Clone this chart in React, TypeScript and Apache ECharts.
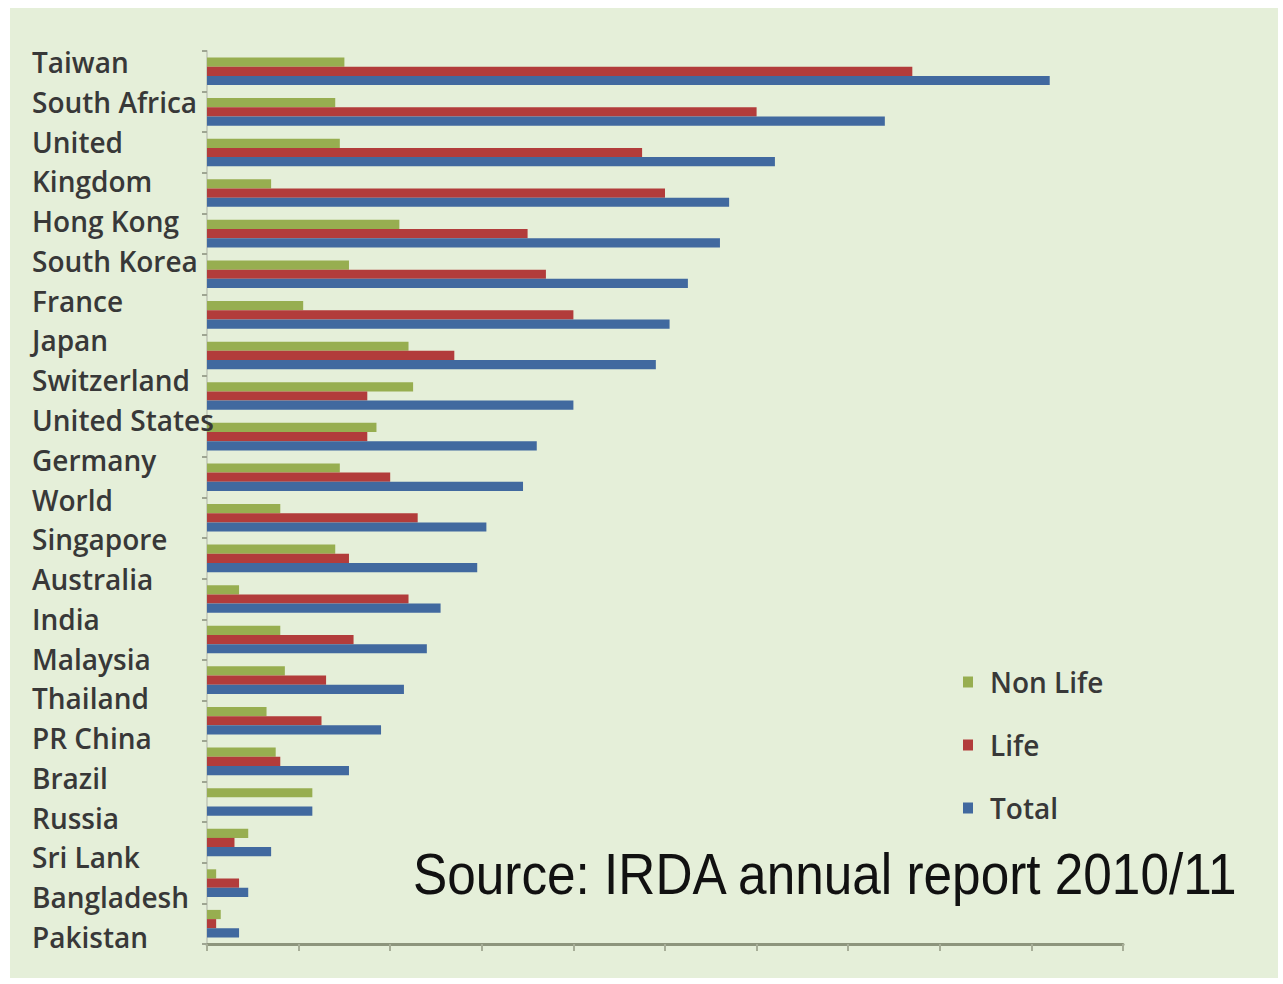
import React, { useEffect, useRef } from "react";
import * as echarts from "echarts";

const countries = [
  "Taiwan", "South Africa", "United Kingdom", "Hong Kong", "South Korea", "France",
  "Japan", "Switzerland", "United States", "Germany", "World", "Singapore",
  "Australia", "India", "Malaysia", "Thailand", "PR China", "Brazil", "Russia",
  "Sri Lanka", "Bangladesh", "Pakistan",
];
// label lines as printed on the left (United Kingdom wraps onto two lines)
const labelLines = [
  "Taiwan", "South Africa", "United", "Kingdom", "Hong Kong", "South Korea", "France",
  "Japan", "Switzerland", "United States", "Germany", "World", "Singapore",
  "Australia", "India", "Malaysia", "Thailand", "PR China", "Brazil", "Russia",
  "Sri Lank", "Bangladesh", "Pakistan",
];
const nonLife = [3.0, 2.8, 2.9, 1.4, 4.2, 3.1, 2.1, 4.4, 4.5, 3.7, 2.9, 1.6, 2.8, 0.7, 1.6, 1.7, 1.3, 1.5, 2.3, 0.9, 0.2, 0.3];
const life = [15.4, 12.0, 9.5, 10.0, 7.0, 7.4, 8.0, 5.4, 3.5, 3.5, 4.0, 4.6, 3.1, 4.4, 3.2, 2.6, 2.5, 1.6, 0.0, 0.6, 0.7, 0.2];
const total = [18.4, 14.8, 12.4, 11.4, 11.2, 10.5, 10.1, 9.8, 8.0, 7.2, 6.9, 6.1, 5.9, 5.1, 4.8, 4.3, 3.8, 3.1, 2.3, 1.4, 0.9, 0.7];
const seriesNames = ["Non Life", "Life", "Total"];
const sourceText = "Source: IRDA annual report 2010/11";

const labelFont = "'Open Sans', 'DejaVu Sans', sans-serif";

export default function App() {
  const ref = useRef<HTMLDivElement>(null);
  useEffect(() => {
    if (!ref.current) return;
    const chart = echarts.init(ref.current, undefined, { renderer: "svg" });
    const colors = ["#97ae50", "#b23c3b", "#41699f"];
    chart.setOption({
      animation: false,
      backgroundColor: "transparent",
      grid: [
        { left: 207, right: 160, top: 51, bottom: 40 },
        { left: 207, right: 160, top: 62, bottom: 47 },
      ],
      xAxis: [
        {
          type: "value", gridIndex: 0, min: 0, max: 20, interval: 2,
          axisLine: { show: true, lineStyle: { color: "#8d957d", width: 3 } },
          axisTick: { show: true, inside: false, length: 7, lineStyle: { color: "#a7ae98", width: 2 } },
          axisLabel: { show: false },
          splitLine: { show: false },
        },
        { type: "value", gridIndex: 1, show: false, min: 0, max: 20 },
      ],
      yAxis: [
        {
          type: "category", gridIndex: 0, data: countries, inverse: true,
          axisLine: { show: true, lineStyle: { color: "#c9d0bf", width: 2 } },
          axisTick: { show: true, length: 5, lineStyle: { color: "#9ea592", width: 2 } },
          axisLabel: { show: false },
        },
        {
          type: "category", gridIndex: 1, data: labelLines, inverse: true, boundaryGap: false,
          z: 10,
          axisLine: { show: false }, axisTick: { show: false },
          axisLabel: {
            show: true, margin: 175, align: "left",
            fontFamily: labelFont, fontSize: 28, color: "#383838", fontWeight: 600,
          },
        },
      ],
      legend: {
        orient: "vertical", left: 958, top: 663, itemGap: 35,
        itemWidth: 10, itemHeight: 11, icon: "rect",
        data: seriesNames,
        textStyle: { fontFamily: labelFont, fontSize: 28, fontWeight: 600, color: "#383838", padding: [0, 0, 0, 12] },
      },
      graphic: [
        {
          type: "text", x: 413, y: 845, z: 20, scaleX: 0.885,
          style: {
            text: sourceText,
            x: 0, y: 0,
            textVerticalAlign: "top",
            font: "58px 'Liberation Sans', Arial, sans-serif",
            fill: "#111111",
          },
        },
      ],
      series: [
        { name: seriesNames[0], type: "bar", data: nonLife, itemStyle: { color: colors[0] }, barGap: "0%", barCategoryGap: "32%" },
        { name: seriesNames[1], type: "bar", data: life, itemStyle: { color: colors[1] }, barGap: "0%", barCategoryGap: "32%" },
        { name: seriesNames[2], type: "bar", data: total, itemStyle: { color: colors[2] }, barGap: "0%", barCategoryGap: "32%" },
      ],
    });
    return () => chart.dispose();
  }, []);
  return (
    <div style={{ position: "fixed", left: 0, top: 0, width: 1283, height: 984, background: "#ffffff" }}>
      <div style={{ position: "absolute", left: 10, top: 8, width: 1268, height: 970, background: "#e5efd9" }} />
      <div ref={ref} style={{ position: "absolute", left: 0, top: 0, width: 1283, height: 984 }} />
    </div>
  );
}
